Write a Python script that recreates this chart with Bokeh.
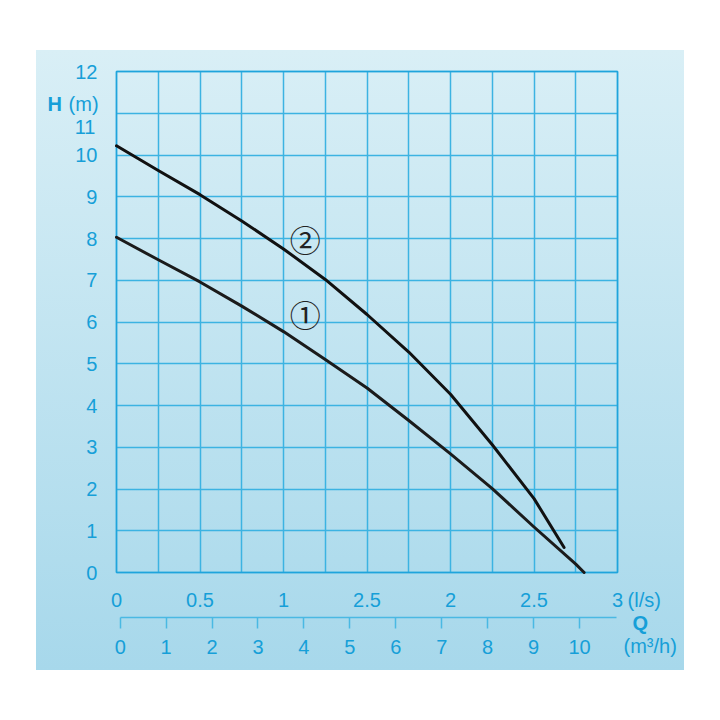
from bokeh.plotting import figure
from bokeh.models import Range1d, LinearAxis, SingleIntervalTicker, ColumnDataSource
from bokeh.core.properties import value
from bokeh.embed import file_html
from bokeh.resources import INLINE

# ---- data ----
q1 = [0, 0.25, 0.5, 0.75, 1.0, 1.25, 1.5, 1.75, 2.0, 2.25, 2.5, 2.75, 2.8]
h1 = [8.03, 7.49, 6.96, 6.38, 5.77, 5.1, 4.42, 3.64, 2.84, 2.01, 1.09, 0.2, 0.0]
q2 = [0, 0.25, 0.5, 0.75, 1.0, 1.25, 1.5, 1.75, 2.0, 2.25, 2.5, 2.68]
h2 = [10.22, 9.63, 9.05, 8.42, 7.75, 7.02, 6.18, 5.28, 4.27, 3.06, 1.77, 0.6]

curve_labels = ["\u2460", "\u2461"]
curve_label_q = [1.13, 1.13]
curve_label_h = [6.2, 7.99]

h_ticks = list(range(0, 13))
q_ls_ticks = [0, 0.5, 1, 1.5, 2, 2.5, 3]
q_ls_labels = ["0", "0.5", "1", "2.5", "2", "2.5", "3"]
q_grid_step = 0.25
q_m3h_ticks = list(range(0, 11))
LS_TO_M3H = 3.6

TXT = "#169fd8"
GRID = "#3cb3e2"
FONT = "Liberation Sans"

q_min, q_max = q_ls_ticks[0], q_ls_ticks[-1]
h_min, h_max = h_ticks[0], h_ticks[-1]

# the frame covers the whole light-blue panel; the chart area is 0..3 l/s x 0..12 m
p = figure(width=648, height=620, output_backend="svg", toolbar_location=None,
           x_range=Range1d(-0.479, 3.401), y_range=Range1d(-2.347, 12.503),
           min_border=0)
p.margin = (50, 0, 0, 36)
p.styles = {"background-image": "linear-gradient(to bottom, #d9eff6, #a7d8eb)"}
p.border_fill_alpha = 0
p.background_fill_alpha = 0
p.outline_line_color = None

# grid, limited to the chart area
p.xgrid.ticker = SingleIntervalTicker(interval=q_grid_step)
p.ygrid.ticker = SingleIntervalTicker(interval=1)
p.xgrid.bounds = (q_min, q_max)
p.ygrid.bounds = (h_min, h_max)
if "cross_bounds" in p.xgrid.properties():
    p.xgrid.cross_bounds = (h_min, h_max)
    p.ygrid.cross_bounds = (q_min, q_max)
    for g in (p.xgrid, p.ygrid):
        g.grid_line_color = GRID
        g.grid_line_width = 1.5
        g.grid_line_alpha = 1
else:
    p.xgrid.visible = False
    p.ygrid.visible = False
    n_q = int(round((q_max - q_min) / q_grid_step))
    gq = [q_min + i * q_grid_step for i in range(n_q + 1)]
    p.segment(x0=gq, y0=[h_min] * len(gq), x1=gq, y1=[h_max] * len(gq),
              line_color=GRID, line_width=1.5)
    p.segment(x0=[q_min] * len(h_ticks), y0=h_ticks, x1=[q_max] * len(h_ticks), y1=h_ticks,
              line_color=GRID, line_width=1.5)

# chart area border
p.quad(left=[q_min], right=[q_max], bottom=[h_min], top=[h_max],
       fill_color=None, line_color="#1fa4dc", line_width=1.5)

# y axis (H)
ya = p.yaxis[0]
ya.fixed_location = q_min
ya.ticker = h_ticks
ya.major_label_overrides = {11: ""}
ya.axis_line_color = None
ya.major_tick_line_color = None
ya.minor_tick_line_color = None
ya.major_tick_out = 0
ya.major_tick_in = 0
ya.major_label_standoff = 19
ya.major_label_text_font = FONT
ya.major_label_text_font_size = "20px"
ya.major_label_text_color = TXT

# x axis (l/s)
xa = p.xaxis[0]
xa.fixed_location = h_min
xa.ticker = q_ls_ticks
xa.major_label_overrides = {t: s for t, s in zip(q_ls_ticks, q_ls_labels)}
xa.axis_line_color = None
xa.major_tick_line_color = None
xa.minor_tick_line_color = None
xa.major_tick_out = 0
xa.major_tick_in = 0
xa.major_label_standoff = 20
xa.major_label_text_font = FONT
xa.major_label_text_font_size = "20px"
xa.major_label_text_color = TXT

# x axis (m3/h)
p.extra_x_ranges = {"m3h": Range1d(-1.822, 12.286)}
xb = LinearAxis(x_range_name="m3h", ticker=q_m3h_ticks, fixed_location=-1.078,
                bounds=(0, q_max * LS_TO_M3H))
xb.axis_line_color = "#4ab9e3"
xb.axis_line_width = 1.5
xb.major_tick_line_color = "#4ab9e3"
xb.major_tick_line_width = 1.5
xb.minor_tick_line_color = None
xb.major_tick_out = 11
xb.major_tick_in = 0
xb.major_label_standoff = 11
xb.major_label_text_font = FONT
xb.major_label_text_font_size = "20px"
xb.major_label_text_color = TXT
p.add_layout(xb, "below")

# curves
p.line(q1, h1, line_width=3, line_color="#1b1b1b", line_join="round", line_cap="round")
p.line(q2, h2, line_width=3, line_color="#111111", line_join="round", line_cap="round")

src = ColumnDataSource(dict(x=curve_label_q, y=curve_label_h, t=curve_labels))
p.text("x", "y", "t", source=src, text_font=value("Noto Sans CJK JP"), text_font_size="31px",
       text_color="#222222", text_align="center", text_baseline="middle")

# axis titles and the displaced "11"
def lab(x, y, t, bold=False, align="left"):
    p.text(x=[x], y=[y], text=[t], text_font=value(FONT), text_font_size="20px",
           text_color=TXT, text_align=align, text_baseline="middle",
           text_font_style="bold" if bold else "normal")

lab(-0.126, 10.68, "11", align="right")
lab(-0.413, 11.23, "H", bold=True)
lab(-0.287, 11.23, "(m)")
lab(3.06, -0.67, "(l/s)")
lab(3.09, -1.2, "Q", bold=True)
lab(3.036, -1.77, "(m\u00b3/h)")

open("out.html", "w").write(file_html(p, INLINE))
